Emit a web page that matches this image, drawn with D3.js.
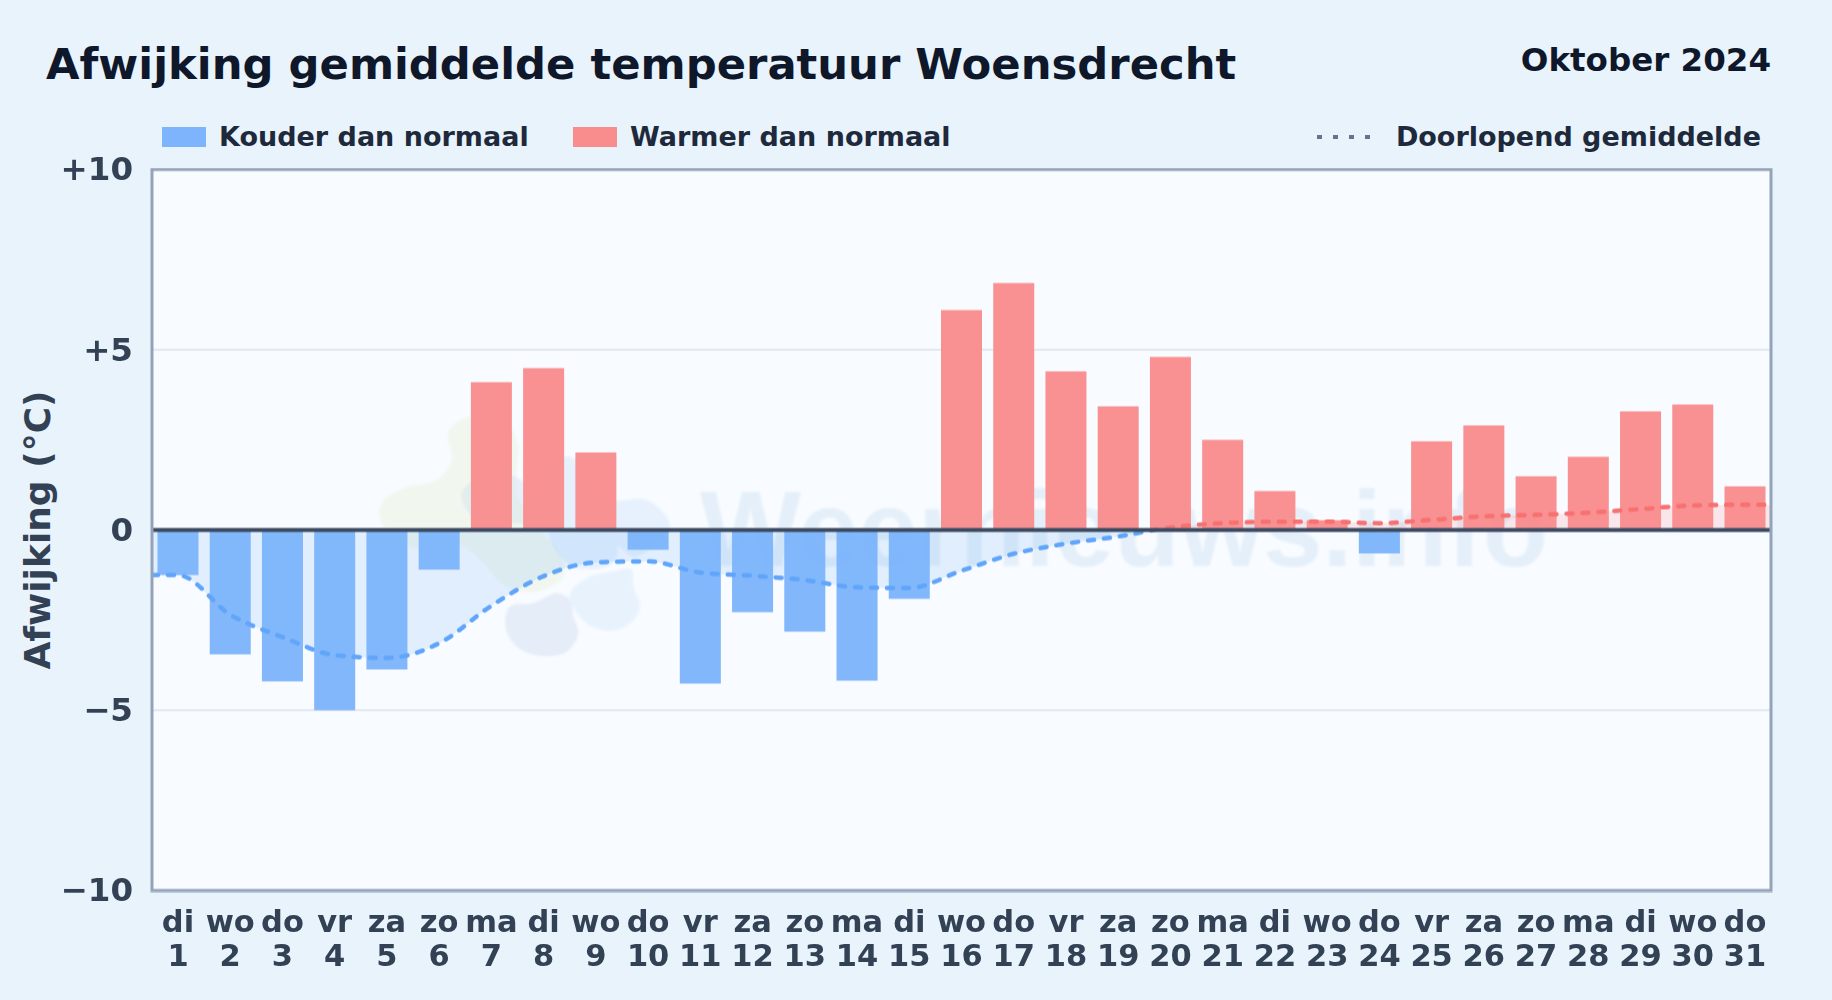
<!DOCTYPE html>
<html>
<head>
<meta charset="utf-8">
<script src="https://cdn.jsdelivr.net/npm/d3@7"></script>
<style>
    html, body { margin: 0; padding: 0; background: #e8f3fc; }
    svg { display: block; font-family: "DejaVu Sans", sans-serif; font-weight: 700; }
</style>
</head>
<body>
<div id="chart"></div>
<script>
// Values
const weekdays = ["di","wo","do","vr","za","zo","ma","di","wo","do","vr","za","zo","ma","di","wo","do","vr","za","zo","ma","di","wo","do","vr","za","zo","ma","di","wo","do"];
const days = d3.range(1, 32);
const deviation = [-1.25,-3.45,-4.2,-5.0,-3.87,-1.1,4.1,4.49,2.15,-0.55,-4.26,-2.28,-2.82,-4.18,-1.91,6.1,6.85,4.4,3.43,4.8,2.5,1.08,0.27,-0.65,2.46,2.9,1.49,2.03,3.29,3.48,1.21];
const runningDays = [0.5,1,2,3,4,5,6,7,8,9,10,11,12,13,14,15,16,17,18,19,20,21,22,23,24,25,26,27,28,29,30,31,31.5];
const runningMean = [-1.25,-1.25,-2.35,-2.97,-3.47,-3.55,-3.14,-2.1,-1.28,-0.9,-0.87,-1.18,-1.27,-1.39,-1.59,-1.61,-1.13,-0.66,-0.38,-0.18,0.07,0.19,0.23,0.23,0.19,0.28,0.38,0.42,0.48,0.58,0.68,0.7,0.7];
const yTicks = [10, 5, 0, -5, -10];

const width = 1832, height = 1000;
const margin = { top: 169.5, right: 61, bottom: 109.5, left: 152 };
const innerW = width - margin.left - margin.right;
const innerH = height - margin.top - margin.bottom;

const x = d3.scaleBand().domain(days).range([0, innerW]).paddingInner(0.215).paddingOuter(0.105);
const xDay = d3.scaleLinear().domain([0.5, 31.5]).range([0, innerW]);
const y = d3.scaleLinear().domain([-10, 10]).range([innerH, 0]);

const blue = "#60a5fa", red = "#f87171";
const barBlue = "#7db4fb", barRed = "#f98d8e";

const svg = d3.select("#chart").append("svg").attr("width", width).attr("height", height);

svg.append("rect").attr("width", width).attr("height", height).attr("fill", "#e8f3fc");

// Title
svg.append("text").attr("x", 46).attr("y", 79).attr("font-size", 43.3).attr("fill", "#0f172a")
    .text("Afwijking gemiddelde temperatuur Woensdrecht");
svg.append("text").attr("x", 1771).attr("y", 71).attr("text-anchor", "end").attr("font-size", 32.5).attr("fill", "#0f172a")
    .text("Oktober 2024");

// Legend
const legend = svg.append("g").attr("font-size", 27).attr("fill", "#1e293b");
legend.append("rect").attr("x", 162).attr("y", 127).attr("width", 44).attr("height", 20).attr("fill", barBlue);
legend.append("text").attr("x", 219).attr("y", 146).text("Kouder dan normaal");
legend.append("rect").attr("x", 573).attr("y", 127).attr("width", 44).attr("height", 20).attr("fill", barRed);
legend.append("text").attr("x", 630).attr("y", 146).text("Warmer dan normaal");
legend.append("line").attr("x1", 1317).attr("x2", 1375).attr("y1", 137).attr("y2", 137)
    .attr("stroke", "#64748b").attr("stroke-width", 4).attr("stroke-dasharray", "5 11");
legend.append("text").attr("x", 1761).attr("y", 146).attr("text-anchor", "end").text("Doorlopend gemiddelde");

const g = svg.append("g").attr("transform", `translate(${margin.left},${margin.top})`);

g.append("rect").attr("width", innerW).attr("height", innerH).attr("fill", "#f8fbff");

// Grid
g.selectAll(".grid").data([5, -5]).join("line")
    .attr("class", "grid")
    .attr("x1", 0).attr("x2", innerW)
    .attr("y1", d => y(d)).attr("y2", d => y(d))
    .attr("stroke", "#e2e8f0").attr("stroke-width", 2);

const defs = svg.append("defs");
defs.append("filter").attr("id", "soft").append("feGaussianBlur").attr("stdDeviation", 1.2);

// Watermark: logo blobs + site name, sits under the bars
const mark = g.append("g").attr("transform", `translate(${-margin.left},${-margin.top})`).attr("filter", "url(#soft)");
mark.append("text").attr("x", 700).attr("y", 566).attr("font-family", "Liberation Sans").attr("font-size", 107)
    .attr("fill", "#2a78c0").attr("opacity", 0.08).text("Weernieuws.info");

const blobShape = d3.line().curve(d3.curveCatmullRomClosed);
const logo = mark.append("g").attr("transform", "translate(360,390) scale(0.3333)");
[
    { color: "#c8e08c", opacity: 0.14, pts: [[330,80],[440,100],[475,170],[470,240],[470,310],[530,410],[600,490],[610,560],[530,605],[440,590],[370,520],[310,470],[150,470],[65,400],[65,340],[130,295],[230,270],[275,210],[265,125]] },
    { color: "#7f9fdc", opacity: 0.12, pts: [[305,310],[350,265],[430,250],[490,275],[530,330],[550,400],[470,400],[370,395],[320,360]] },
    { color: "#3b8ee8", opacity: 0.09, pts: [[620,200],[660,220],[680,290],[760,330],[860,330],[925,390],[925,430],[880,470],[820,500],[775,470],[770,500],[740,530],[640,530],[580,470],[560,410],[530,340],[530,250],[570,210]] },
    { color: "#8fb0d8", opacity: 0.18, pts: [[520,640],[590,610],[630,630],[640,680],[655,730],[620,785],[545,798],[470,770],[437,710],[450,650]] },
    { color: "#5aa9ee", opacity: 0.1, pts: [[690,560],[760,545],[815,540],[820,590],[840,650],[810,700],[750,722],[680,700],[640,650],[630,610]] }
].forEach(b => {
    logo.append("path").attr("d", blobShape(b.pts)).attr("fill", b.color).attr("opacity", b.opacity);
});

// Clip above/below zero for area + line
defs.append("clipPath").attr("id", "above").append("rect").attr("x", 0).attr("y", 0).attr("width", innerW).attr("height", y(0));
defs.append("clipPath").attr("id", "below").append("rect").attr("x", 0).attr("y", y(0)).attr("width", innerW).attr("height", innerH - y(0));

const running = runningDays.map((d, i) => ({ day: d, value: runningMean[i] }));
const area = d3.area().x(d => xDay(d.day)).y0(y(0)).y1(d => y(d.value)).curve(d3.curveMonotoneX);
const line = d3.line().x(d => xDay(d.day)).y(d => y(d.value)).curve(d3.curveMonotoneX);

g.append("path").datum(running).attr("d", area).attr("fill", blue).attr("opacity", 0.15).attr("clip-path", "url(#below)");
g.append("path").datum(running).attr("d", area).attr("fill", red).attr("opacity", 0.15).attr("clip-path", "url(#above)");

// Bars
g.selectAll(".bar").data(days).join("rect")
    .attr("class", "bar")
    .attr("x", d => x(d))
    .attr("width", x.bandwidth())
    .attr("y", (d, i) => y(Math.max(0, deviation[i])))
    .attr("height", (d, i) => Math.abs(y(deviation[i]) - y(0)))
    .attr("fill", (d, i) => deviation[i] < 0 ? barBlue : barRed)
    .attr("opacity", 0.96);

// Running mean
[["below", blue], ["above", red]].forEach(([clip, color]) => {
    g.append("path").datum(running).attr("d", line)
        .attr("fill", "none").attr("stroke", color).attr("stroke-width", 4.5)
        .attr("stroke-linecap", "round").attr("stroke-dasharray", "6 10")
        .attr("clip-path", `url(#${clip})`);
});

// Zero line
g.append("line").attr("x1", 0).attr("x2", innerW).attr("y1", y(0)).attr("y2", y(0))
    .attr("stroke", "#3b4a60").attr("stroke-width", 4);

// Border
g.append("rect").attr("width", innerW).attr("height", innerH).attr("fill", "none")
    .attr("stroke", "#94a3b8").attr("stroke-width", 3);

// Y axis
const yAxis = g.append("g").call(d3.axisLeft(y).tickValues(yTicks).tickSize(0).tickPadding(19)
    .tickFormat(d => d > 0 ? "+" + d : d === 0 ? "0" : "\u2212" + Math.abs(d)));
yAxis.select(".domain").remove();
yAxis.selectAll("text").attr("font-size", 32.5).attr("fill", "#334155").attr("font-family", "DejaVu Sans").attr("font-weight", 700);

g.append("text").attr("transform", `translate(-102,${y(0)}) rotate(-90)`).attr("text-anchor", "middle")
    .attr("font-size", 36).attr("fill", "#334155").text("Afwijking (\u00b0C)");

// X axis, two lines per day
const xLabels = g.selectAll(".xlabel").data(days).join("g").attr("class", "xlabel")
    .attr("transform", d => `translate(${x(d) + x.bandwidth() / 2},${innerH})`)
    .attr("text-anchor", "middle").attr("font-size", 30.5).attr("fill", "#334155");
xLabels.append("text").attr("y", 41).text((d, i) => weekdays[i]);
xLabels.append("text").attr("y", 75).text(d => d);
</script>
</body>
</html>
